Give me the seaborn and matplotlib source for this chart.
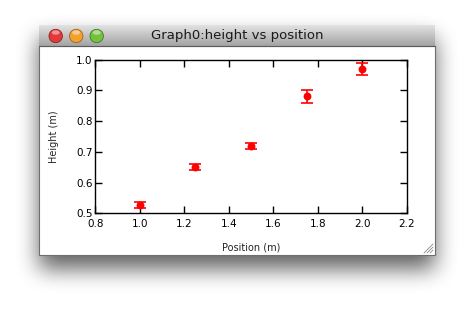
import numpy as np
import pandas as pd
import matplotlib
matplotlib.use("Agg")
import matplotlib.pyplot as plt
import seaborn as sns
from matplotlib.patches import Rectangle, Ellipse
from matplotlib.lines import Line2D

position = [1.0, 1.25, 1.5, 1.75, 2.0]
height = [0.528, 0.650, 0.720, 0.880, 0.970]
height_err = [0.010, 0.010, 0.010, 0.020, 0.020]
x_ticks = [0.8, 1.0, 1.2, 1.4, 1.6, 1.8, 2.0, 2.2]
y_ticks = [0.5, 0.6, 0.7, 0.8, 0.9, 1.0]

sns.set_style("ticks")
plt.rcParams['font.family'] = ['DejaVu Sans']

W, H = 475, 310
fig = plt.figure(figsize=(W / 100, H / 100), dpi=100)
fig.patch.set_facecolor("white")

def fx(x):
    return x / W

def fy(y):
    return 1 - y / H

# window geometry (pixels)
wl, wt, wr, wb = 39, 24.5, 435, 255
tb = 45.7

# soft drop shadow (blurred mask)
mask = np.zeros((H, W))
mask[int(wt) + 14:int(wb) + 14, int(wl):int(wr)] = 1.0

def box_blur(a, r):
    k = np.ones(2 * r + 1) / (2 * r + 1)
    a = np.apply_along_axis(lambda m: np.convolve(m, k, mode="same"), 0, a)
    a = np.apply_along_axis(lambda m: np.convolve(m, k, mode="same"), 1, a)
    return a

for _ in range(3):
    mask = box_blur(mask, 10)
alpha = 0.62 * mask
rgba = np.zeros((H, W, 4))
rgba[..., 3] = alpha
fig.figimage(rgba, xo=0, yo=0, origin="upper", zorder=0)

# window body
body = Rectangle((fx(wl), fy(wb)), fx(wr - wl), (wb - tb) / H,
                 transform=fig.transFigure, facecolor="white",
                 edgecolor="#6e6e6e", linewidth=0.8, zorder=1)
fig.patches.append(body)

# title bar gradient
tax = fig.add_axes([fx(wl), fy(tb), fx(wr - wl), (tb - wt) / H], zorder=2)
grad = np.linspace(0.90, 0.64, 64).reshape(-1, 1)
tax.imshow(np.dstack([grad, grad, grad]), aspect="auto", extent=[0, 1, 0, 1])
tax.set_axis_off()
tax.set_xlim(0, 1)
tax.set_ylim(0, 1)
tax.text(0.5, 0.48, "Graph0:height vs position", ha="center", va="center",
         fontsize=9.5, color="#1a1a1a", transform=tax.transAxes)
fig.add_artist(Line2D([fx(wl), fx(wr)], [fy(tb), fy(tb)],
                      transform=fig.transFigure, color="#5a5a5a",
                      linewidth=0.8, zorder=3))

# traffic lights
for cx, col, ec in [(55.7, "#e3393a", "#8f2020"), (76.2, "#f0a22e", "#a0601a"),
                    (96.7, "#74c140", "#3c7d20")]:
    c = Ellipse((fx(cx), fy(36)), 13.4 / W, 13.4 / H, transform=fig.transFigure,
                facecolor=col, edgecolor=ec, linewidth=0.6, zorder=3)
    fig.patches.append(c)
    hl = Ellipse((fx(cx), fy(32.5)), 8.0 / W, 4.5 / H,
                 transform=fig.transFigure, facecolor="white", alpha=0.45,
                 edgecolor="none", zorder=4)
    fig.patches.append(hl)

# resize grip
for k in range(3):
    off = 3 + k * 3
    fig.add_artist(Line2D([fx(433 - off), fx(433)], [fy(253), fy(253 - off)],
                          transform=fig.transFigure, color="#8a8a8a",
                          linewidth=0.6, zorder=3))

# plot axes
al, at, ar, ab = 95.3, 59.5, 406.7, 213.3
ax = fig.add_axes([fx(al), fy(ab), fx(ar - al), (ab - at) / H], zorder=5)
ax.set_facecolor("white")

df = pd.DataFrame({"Position": position, "Height": height, "err": height_err})
ax.errorbar(df["Position"], df["Height"], yerr=df["err"], fmt="none",
            ecolor="red", elinewidth=1.2, capsize=4, capthick=1.2, zorder=3)
sns.scatterplot(data=df, x="Position", y="Height", ax=ax, color="red",
                s=32, edgecolor="red", linewidth=0, zorder=4, legend=False)

ax.set_xlim(0.8, 2.2)
ax.set_ylim(0.5, 1.0)
ax.set_xticks(x_ticks)
ax.set_yticks(y_ticks)
ax.set_xticklabels([f"{v:.1f}" for v in x_ticks])
ax.set_yticklabels([f"{v:.1f}" for v in y_ticks])
ax.tick_params(direction="in", length=5, width=1, top=True, right=True,
               labelsize=7.5, colors="black")
ax.tick_params(axis="x", pad=4)
ax.tick_params(axis="y", pad=2)
for s in ax.spines.values():
    s.set_visible(True)
    s.set_linewidth(1)
    s.set_color("black")
ax.set_xlabel("Position (m)", fontsize=7, labelpad=10)
ax.set_ylabel("Height (m)", fontsize=7, labelpad=12)

fig.savefig("out.png", dpi=100)
